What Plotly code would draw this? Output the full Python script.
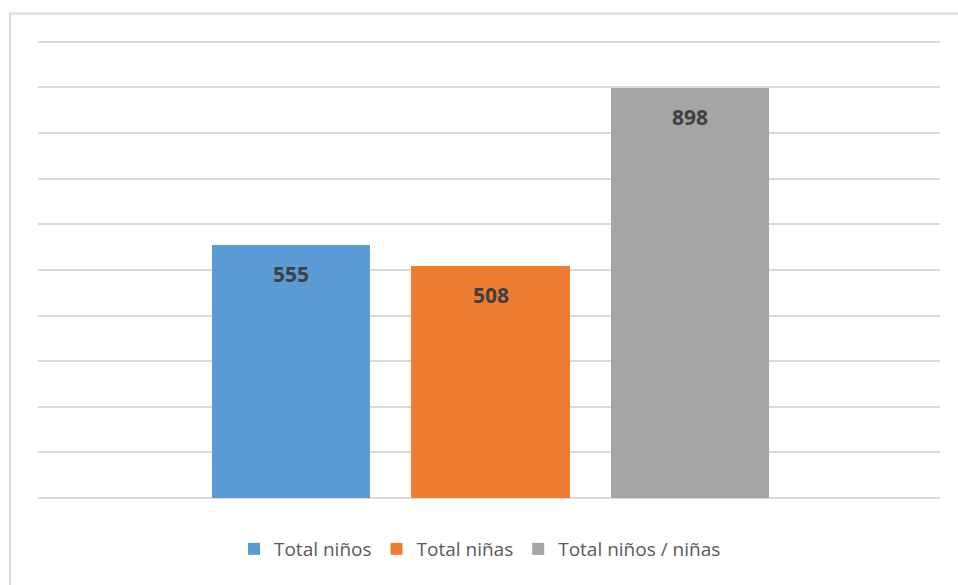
import plotly.graph_objects as go

series = ["Total niños", "Total niñas", "Total niños / niñas"]
values = [555, 508, 898]
colors = ["#5B9BD5", "#ED7D31", "#A5A5A5"]

fig = go.Figure()
for i, (name, val, col) in enumerate(zip(series, values, colors)):
    fig.add_trace(go.Bar(
        x=[i], y=[val], name=name, marker=dict(color=col, line=dict(width=0)),
        width=0.792, hoverinfo="skip",
    ))
    fig.add_annotation(
        x=i, y=val, xref="x", yref="y", text=f"<b>{val}</b>", showarrow=False,
        yanchor="middle", yshift=-29,
        font=dict(family="Open Sans", size=21, color="#404040"),
    )

L, R, T, B = 38, 18, 40, 87
W, H = 958, 585
pw, ph = W - L - R, H - T - B
fig.add_shape(
    type="rect", xref="paper", yref="paper",
    x0=(10 - L) / pw, x1=(970 - L) / pw,
    y0=-(600 - (H - B)) / ph, y1=1 + (T - 13.5) / ph,
    line=dict(color="#d9d9d9", width=2), fillcolor="rgba(0,0,0,0)", layer="below",
)

fig.update_layout(
    width=W, height=H,
    margin=dict(l=L, r=R, t=T, b=B),
    paper_bgcolor="white", plot_bgcolor="white",
    showlegend=True,
    legend=dict(orientation="h", x=0.49, xanchor="center", y=1 - (549 - T) / ph, yanchor="middle",
                font=dict(family="Open Sans", size=19, color="#595959"),
                itemwidth=30, tracegroupgap=0),
    xaxis=dict(range=[-1.268, 3.253], showticklabels=False, showgrid=False,
               zeroline=False, showline=False, fixedrange=True),
    yaxis=dict(range=[0, 1004], tickvals=[100 * k for k in range(11)], showticklabels=False, showgrid=True,
               gridcolor="#d9d9d9", gridwidth=1.5, zeroline=True,
               zerolinecolor="#d9d9d9", zerolinewidth=1.5, showline=False),
    bargap=0, barmode="overlay",
)

fig.write_html("out.html")
